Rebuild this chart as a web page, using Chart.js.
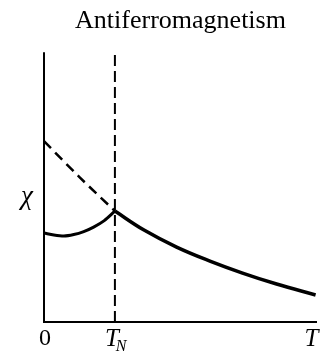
<!doctype html>
<html>
  <head>
    <meta charset="utf-8" />
    <title>Antiferromagnetism</title>
    <script src="https://cdn.jsdelivr.net/npm/chart.js@4.4.1/dist/chart.umd.min.js"></script>
    <style>
      html, body { margin: 0; padding: 0; background: #fff; }
    </style>
  </head>
  <body>
    <canvas id="chart" width="327" height="360"></canvas>
    <script>
      // temperature in units of T_N, susceptibility in arbitrary units
      const tBelow = [0, 0.14, 0.28, 0.42, 0.56, 0.7, 0.85, 1.0];
      const chiBelow = [0.89, 0.87, 0.86, 0.875, 0.905, 0.95, 1.015, 1.11];
      const tAbove = [1.0, 1.41, 1.87, 2.34, 2.8, 3.28, 3.83];
      const chiAbove = [1.11, 0.92, 0.75, 0.61, 0.49, 0.38, 0.27];
      const tExtrap = [0, 0.5, 1.0];
      const chiExtrap = [1.81, 1.45, 1.11];
      const tNeel = 1.0;
      const tMax = 3.85;
      const chiMax = 2.7;

      const xTicks = [0, tNeel, 3.8];
      const xTickLabels = ["0", "T", "T"];
      const xTickSubs = ["", "N", ""];
      const yLabel = "χ";
      const yLabelAt = 1.25;

      const pts = (xs, ys) => xs.map((v, i) => ({ x: v, y: ys[i] }));

      const labelsPlugin = {
        id: "labels",
        afterDraw(chart) {
          const { ctx, scales } = chart;
          const x = scales.x, y = scales.y;
          const by = y.getPixelForValue(0) + 17;
          ctx.save();
          ctx.fillStyle = "#000";
          ctx.textBaseline = "middle";
          xTicks.forEach((t, i) => {
            const px = x.getPixelForValue(t);
            ctx.textAlign = "center";
            if (i === 0) {
              ctx.font = '24px "Liberation Serif"';
              ctx.fillText(xTickLabels[i], px + 1, by);
            } else {
              ctx.font = 'italic 25px "Liberation Serif"';
              const w = ctx.measureText(xTickLabels[i]).width;
              const off = xTickSubs[i] ? -3 : -2;
              ctx.fillText(xTickLabels[i], px + off, by);
              if (xTickSubs[i]) {
                ctx.font = 'italic 16px "Liberation Serif"';
                ctx.textAlign = "left";
                ctx.fillText(xTickSubs[i], px + off + w / 2 - 3, by + 8);
              }
            }
          });
          ctx.font = 'italic 27px "Liberation Serif"';
          ctx.textAlign = "center";
          ctx.fillText(yLabel, x.getPixelForValue(0) - 17, y.getPixelForValue(yLabelAt));
          ctx.restore();
        },
      };

      new Chart(document.getElementById("chart"), {
        type: "scatter",
        data: {
          datasets: [
            {
              data: pts([0, 0, tMax], [chiMax, 0, 0]),
              showLine: true, borderColor: "#000", borderWidth: 2, pointRadius: 0, clip: false,
            },
            {
              data: pts([tNeel, tNeel], [0, chiMax]),
              showLine: true, borderColor: "#000", borderWidth: 2, borderDash: [11, 5], pointRadius: 0, clip: false,
            },
            {
              data: pts(tExtrap, chiExtrap),
              showLine: true, borderColor: "#000", borderWidth: 2.5, borderDash: [10, 6], pointRadius: 0,
              tension: 0.3, clip: false,
            },
            {
              data: pts(tBelow, chiBelow),
              showLine: true, borderColor: "#000", borderWidth: 3, pointRadius: 0,
              cubicInterpolationMode: "monotone", clip: false,
            },
            {
              data: pts(tAbove, chiAbove),
              showLine: true, borderColor: "#000", borderWidth: 3.5, pointRadius: 0,
              tension: 0.4, clip: false,
            },
          ],
        },
        options: {
          responsive: false,
          animation: false,
          layout: { padding: { left: 44, right: 10, top: 0, bottom: 38 } },
          scales: {
            x: { type: "linear", min: 0, max: tMax, display: false },
            y: { type: "linear", min: 0, max: chiMax, display: false },
          },
          plugins: {
            legend: { display: false },
            tooltip: { enabled: false },
            title: {
              display: true,
              text: "Antiferromagnetism",
              color: "#000",
              font: { family: "Liberation Serif", size: 26, weight: "normal", lineHeight: 1.2 },
              padding: { top: 6, bottom: 15 },
            },
          },
        },
        plugins: [labelsPlugin],
      });
    </script>
  </body>
</html>
